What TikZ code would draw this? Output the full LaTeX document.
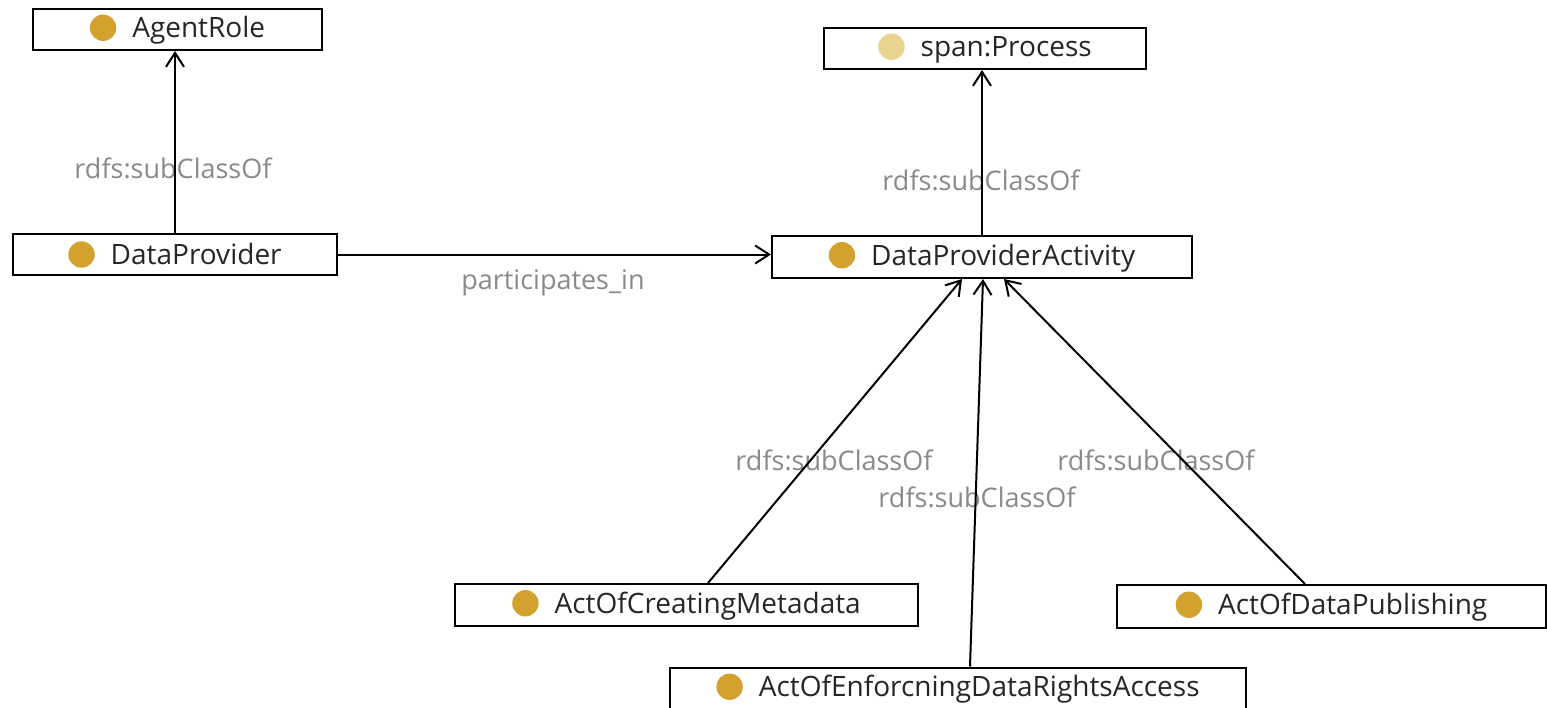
\documentclass[tikz,border=0pt]{standalone}
\usepackage{fontspec}
\setmainfont{Open Sans}
\usetikzlibrary{arrows.meta,calc}

\definecolor{dotgold}{HTML}{D2A12E}
\definecolor{dotpale}{HTML}{E8D48E}
\definecolor{edgegray}{HTML}{8A8A8A}

% kleiner Kreis vor dem Klassennamen
\newcommand{\classdot}[1]{\tikz[baseline=-5pt]\fill[#1] (0pt,0pt) circle (6.6pt);\hspace{8pt}}

\tikzset{
  classbox/.style={draw, line width=1pt, inner sep=0pt, minimum height=20.5pt,
    font=\fontsize{14}{16}\selectfont, text=black!85},
  edgelabel/.style={inner sep=0pt, font=\fontsize{13.5}{16}\selectfont, text=edgegray},
  subarrow/.style={line width=1pt, -{Straight Barb[length=7pt,width=9pt]}}
}

\begin{document}
\begin{tikzpicture}[x=0.5pt,y=-0.5pt]
  \useasboundingbox (0,0) rectangle (1547,707);
  \clip (0,0) rectangle (1547,707);
  \fill[white] (0,0) rectangle (1547,707);

  % Klassen
  \node[classbox, minimum width=144.5pt] (agentrole) at (177.5,29.5) {\classdot{dotgold}AgentRole};
  \node[classbox, minimum width=161pt] (process) at (985,48.5) {\classdot{dotpale}span:Process};
  \node[classbox, minimum width=162pt] (dataprovider) at (175,254.5) {\classdot{dotgold}DataProvider};
  \node[classbox, minimum width=210pt, minimum height=21pt] (activity) at (982,257) {\classdot{dotgold}DataProviderActivity};
  \node[classbox, minimum width=231.5pt, minimum height=21pt] (metadata) at (686.5,605) {\classdot{dotgold}ActOfCreatingMetadata};
  \node[classbox, minimum width=288pt, minimum height=21pt] (enforcing) at (958,688.5) {\classdot{dotgold}ActOfEnforcningDataRightsAccess};
  \node[classbox, minimum width=214.5pt, minimum height=21.5pt] (publishing) at (1331.5,606.5) {\classdot{dotgold}ActOfDataPublishing};

  % Beschriftungen der Kanten
  \node[edgelabel] (lblagent) at (173,168) {rdfs:subClassOf};
  \node[edgelabel] (lblprocess) at (981,180) {rdfs:subClassOf};
  \node[edgelabel] (lblpart) at (553,283) {participates\_in};
  \node[edgelabel] (lblmeta) at (834,460) {rdfs:subClassOf};
  \node[edgelabel] (lblenf) at (977,497) {rdfs:subClassOf};
  \node[edgelabel] (lblpub) at (1156,460) {rdfs:subClassOf};

  % Kanten
  \draw[subarrow] (dataprovider.north) -- (dataprovider.north |- agentrole.south);
  \draw[subarrow] (activity.north) -- (activity.north |- process.south);
  \draw[subarrow] (dataprovider.east) -- (dataprovider.east -| activity.west);
  \draw[subarrow] ($(metadata.north)+(21.5,0)$) -- ($(activity.south)+(-20,0)$);
  \draw[subarrow] ($(enforcing.north)+(12,0)$) -- ($(activity.south)+(1,0)$);
  \draw[subarrow] ($(publishing.north)+(-26.5,0)$) -- ($(activity.south)+(22,0)$);
\end{tikzpicture}
\end{document}
